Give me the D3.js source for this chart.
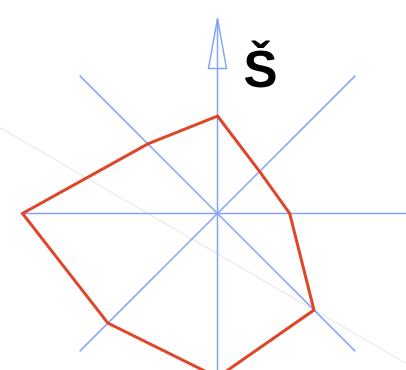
<!DOCTYPE html>
<html>
<head>
<meta charset="utf-8">
<script src="https://cdn.jsdelivr.net/npm/d3@7"></script>
<style>
  html, body { margin: 0; padding: 0; background: #fff; }
  svg { display: block; }
</style>
</head>
<body>
<svg width="406" height="370"></svg>
<script>
const svg = d3.select("svg");

// directions, clockwise from north (degrees)
const directions = ["N", "NE", "E", "SE", "S", "SW", "W", "NW"];
const angles = [0, 45, 90, 135, 180, 225, 270, 315];
const values = [5, 3.05, 3.7, 7, 8.4, 7.95, 10, 5.05];

// axis length in data units
const axisMax = 10;
const northLabel = "Š";

// faint reference line, two points in data units (x east, y north)
const refLine = [[-11.15, 4.4], [9.7, -7.7]];

const cx = 217.5, cy = 213.5;
const r = d3.scaleLinear().domain([0, axisMax]).range([0, 195]);

const toXY = (a, v) => {
  const t = a * Math.PI / 180;
  return [cx + r(v) * Math.sin(t), cy - r(v) * Math.cos(t)];
};

const g = svg.append("g");

// faint gray line
g.append("line")
  .attr("x1", cx + r(refLine[0][0])).attr("y1", cy - r(refLine[0][1]))
  .attr("x2", cx + r(refLine[1][0])).attr("y2", cy - r(refLine[1][1]))
  .attr("stroke", "#dcdcdc")
  .attr("stroke-width", 0.8);

// axes
g.selectAll(".axis")
  .data(angles)
  .enter().append("line")
  .attr("class", "axis")
  .attr("x1", cx).attr("y1", cy)
  .attr("x2", d => toXY(d, axisMax)[0])
  .attr("y2", d => toXY(d, axisMax)[1])
  .attr("stroke", "#86a4f7")
  .attr("stroke-width", 1.5);

// north arrow head
const tip = toXY(0, axisMax);
const head = r(2.56);
g.append("path")
  .attr("d", `M${tip[0]},${tip[1]} L${tip[0] - 9},${tip[1] + head} L${tip[0] + 9},${tip[1] + head} Z`)
  .attr("fill", "none")
  .attr("stroke", "#86a4f7")
  .attr("stroke-width", 1.5)
  .attr("stroke-linejoin", "miter");

// north label
g.append("text")
  .attr("x", tip[0] + 43)
  .attr("y", cy - r(6.5))
  .attr("text-anchor", "middle")
  .attr("font-family", "Liberation Sans, Arial, sans-serif")
  .attr("font-weight", "bold")
  .attr("font-size", 51)
  .attr("fill", "#000")
  .text(northLabel);

// data polygon
const pts = angles.map((a, i) => toXY(a, values[i]));
g.append("path")
  .attr("d", d3.line()(pts) + "Z")
  .attr("fill", "none")
  .attr("stroke", "#e0452a")
  .attr("stroke-width", 3)
  .attr("stroke-linejoin", "miter");
</script>
</body>
</html>
